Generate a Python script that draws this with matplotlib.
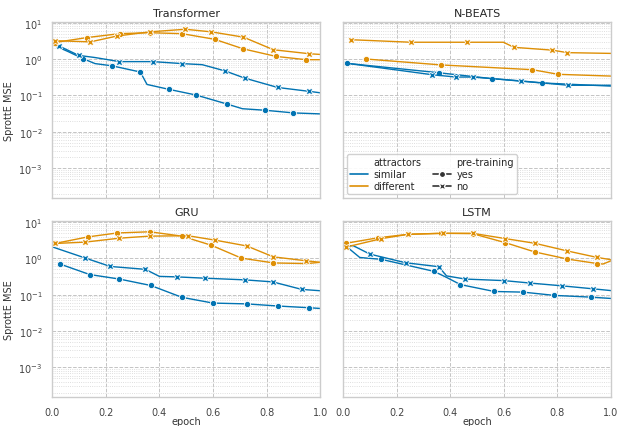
"""SprottE MSE vs epoch for four model families."""
import matplotlib
matplotlib.use("Agg")
import matplotlib.pyplot as plt
import seaborn as sns
from matplotlib.lines import Line2D
from matplotlib.ticker import LogLocator, NullFormatter

# each series: (epoch, mse, marker drawn at this point)
models = ["Transformer", "N-BEATS", "GRU", "LSTM"]

tf_sim_yes = [(0.0, 2.5, 0), (0.06, 1.6, 0), (0.116, 1.02, 1), (0.16, 0.75, 0), (0.224, 0.65, 1),
              (0.329, 0.44, 1), (0.354, 0.2, 0), (0.437, 0.146, 1), (0.538, 0.102, 1), (0.652, 0.058, 1),
              (0.71, 0.043, 0), (0.795, 0.039, 1), (0.9, 0.033, 1), (1.0, 0.031, 0)]
tf_sim_no = [(0.0, 2.5, 0), (0.025, 2.3, 1), (0.099, 1.26, 1), (0.16, 1.1, 0), (0.251, 0.85, 1),
             (0.376, 0.85, 1), (0.484, 0.75, 1), (0.56, 0.7, 0), (0.646, 0.47, 1), (0.718, 0.30, 1),
             (0.842, 0.165, 1), (0.96, 0.129, 1), (1.0, 0.118, 0)]
tf_diff_yes = [(0.01, 2.85, 1), (0.13, 3.9, 1), (0.252, 5.0, 1), (0.364, 5.3, 1), (0.484, 5.0, 1),
               (0.606, 3.5, 1), (0.714, 1.9, 1), (0.836, 1.18, 1), (0.948, 0.96, 1), (1.0, 0.96, 0)]
tf_diff_no = [(0.01, 3.2, 1), (0.143, 2.97, 1), (0.242, 4.3, 1), (0.364, 5.6, 1), (0.497, 6.6, 1),
              (0.594, 5.6, 1), (0.714, 4.0, 1), (0.826, 1.8, 1), (0.96, 1.4, 1), (1.0, 1.34, 0)]

nb_sim_yes = [(0.016, 0.76, 1), (0.357, 0.42, 1), (0.554, 0.29, 1), (0.741, 0.22, 1), (1.0, 0.18, 0)]
nb_sim_no = [(0.016, 0.76, 0), (0.333, 0.37, 1), (0.421, 0.32, 1), (0.483, 0.32, 1), (0.664, 0.25, 1),
             (0.84, 0.19, 1), (1.0, 0.19, 0)]
nb_diff_yes = [(0.087, 1.0, 1), (0.364, 0.69, 1), (0.706, 0.51, 1), (0.803, 0.38, 1), (1.0, 0.34, 0)]
nb_diff_no = [(0.031, 3.4, 1), (0.253, 2.9, 1), (0.463, 2.9, 1), (0.598, 2.9, 0), (0.638, 2.1, 1),
              (0.78, 1.76, 1), (0.837, 1.5, 1), (1.0, 1.43, 0)]

gru_sim_yes = [(0.029, 0.7, 1), (0.14, 0.36, 1), (0.251, 0.27, 1), (0.368, 0.18, 1), (0.484, 0.085, 1),
               (0.6, 0.059, 1), (0.726, 0.056, 1), (0.842, 0.049, 1), (0.957, 0.044, 1), (1.0, 0.042, 0)]
gru_sim_no = [(0.0, 2.08, 0), (0.124, 1.02, 1), (0.217, 0.6, 1), (0.348, 0.5, 1), (0.4, 0.32, 0),
              (0.466, 0.31, 1), (0.571, 0.285, 1), (0.718, 0.257, 1), (0.823, 0.226, 1), (0.932, 0.14, 1),
              (1.0, 0.129, 0)]
gru_diff_yes = [(0.01, 2.57, 1), (0.133, 3.9, 1), (0.242, 5.0, 1), (0.364, 5.4, 1), (0.484, 4.1, 1),
                (0.594, 2.3, 1), (0.706, 1.02, 1), (0.826, 0.75, 1), (0.95, 0.72, 0), (1.0, 0.78, 0)]
gru_diff_no = [(0.01, 2.57, 1), (0.122, 2.8, 1), (0.251, 3.6, 1), (0.364, 4.1, 1), (0.507, 4.2, 1),
               (0.606, 3.2, 1), (0.726, 2.2, 1), (0.826, 1.1, 1), (0.948, 0.86, 1), (1.0, 0.78, 0)]

lstm_sim_yes = [(0.01, 2.2, 0), (0.062, 1.06, 0), (0.143, 0.94, 1), (0.339, 0.44, 1), (0.386, 0.30, 0),
                (0.438, 0.19, 1), (0.564, 0.123, 1), (0.672, 0.118, 1), (0.788, 0.096, 1),
                (0.924, 0.086, 1), (1.0, 0.079, 0)]
lstm_sim_no = [(0.01, 2.2, 0), (0.037, 2.25, 0), (0.1, 1.31, 1), (0.233, 0.76, 1), (0.357, 0.59, 1),
               (0.386, 0.33, 0), (0.456, 0.27, 1), (0.6, 0.245, 1), (0.697, 0.21, 1), (0.816, 0.176, 1),
               (0.931, 0.146, 1), (1.0, 0.13, 0)]
lstm_diff_yes = [(0.01, 2.6, 1), (0.131, 3.7, 1), (0.243, 4.6, 1), (0.364, 4.9, 1), (0.483, 4.8, 1),
                 (0.606, 2.7, 1), (0.716, 1.5, 1), (0.837, 0.96, 1), (0.949, 0.72, 1), (0.97, 0.7, 0),
                 (1.0, 0.86, 0)]
lstm_diff_no = [(0.01, 2.04, 1), (0.143, 3.5, 1), (0.243, 4.6, 1), (0.374, 4.9, 1), (0.483, 4.9, 1),
                (0.606, 3.5, 1), (0.716, 2.6, 1), (0.837, 1.6, 1), (0.949, 1.06, 1), (1.0, 0.92, 0)]

series = {
    "Transformer": [tf_sim_yes, tf_sim_no, tf_diff_yes, tf_diff_no],
    "N-BEATS": [nb_sim_yes, nb_sim_no, nb_diff_yes, nb_diff_no],
    "GRU": [gru_sim_yes, gru_sim_no, gru_diff_yes, gru_diff_no],
    "LSTM": [lstm_sim_yes, lstm_sim_no, lstm_diff_yes, lstm_diff_no],
}
attractors = ["similar", "similar", "different", "different"]
pretraining = ["yes", "no", "yes", "no"]

colors = {"similar": "#0173b2", "different": "#de8f05"}
markers = {"yes": "o", "no": "X"}

sns.set_theme(style="whitegrid")
plt.rcParams["font.family"] = ["DejaVu Sans"]
plt.rcParams["font.size"] = 7

fig, axes = plt.subplots(2, 2, figsize=(6.21, 4.27), dpi=100, sharex=True, sharey=True)
fig.subplots_adjust(left=0.084, right=0.984, top=0.947, bottom=0.067, wspace=0.086, hspace=0.13)

for ax, name in zip(axes.flat, models):
    for pts, att, pre in zip(series[name], attractors, pretraining):
        xs = [p[0] for p in pts]
        ys = [p[1] for p in pts]
        marks = [i for i, p in enumerate(pts) if p[2]]
        ax.plot(xs, ys, color=colors[att], lw=1.0, marker=markers[pre], markevery=marks,
                markersize=4.5 if pre == "yes" else 5, markeredgecolor="white", markeredgewidth=0.6)
    ax.set_yscale("log")
    ax.set_xlim(0, 1)
    ax.set_ylim(1.5e-4, 10.7)
    ax.set_title(name, fontsize=8, color="#262626", pad=4)
    ax.yaxis.set_major_locator(LogLocator(base=10, numticks=10))
    ax.yaxis.set_minor_locator(LogLocator(base=10, subs=range(2, 10), numticks=20))
    ax.yaxis.set_minor_formatter(NullFormatter())
    ax.grid(True, which="major", ls="--", lw=0.7, color="#c4c4c4")
    ax.grid(True, which="minor", axis="y", ls=":", lw=0.6, color="#d4d4d4")
    ax.tick_params(labelsize=7, pad=1, colors="#444444")
    for sp in ax.spines.values():
        sp.set_color("#cccccc")
        sp.set_linewidth(1.0)

for ax in axes[:, 0]:
    ax.set_ylabel("SprottE MSE", fontsize=7, color="#333333", labelpad=3)
for ax in axes[1, :]:
    ax.set_xlabel("epoch", fontsize=7, color="#333333", labelpad=-0.5)
    ax.set_xticks([0.0, 0.2, 0.4, 0.6, 0.8, 1.0])

# legend in the N-BEATS panel
blank = Line2D([], [], linestyle="none")
handles = [blank,
           Line2D([], [], color=colors["similar"], lw=1.2),
           Line2D([], [], color=colors["different"], lw=1.2),
           blank,
           Line2D([], [], color="#333333", lw=1.2, marker="o", markersize=4.5, markeredgecolor="white"),
           Line2D([], [], color="#333333", lw=1.2, marker="X", markersize=5, markeredgecolor="white")]
labels = ["attractors", "similar", "different", "pre-training", "yes", "no"]
leg = axes[0, 1].legend(handles, labels, ncol=2, loc="lower left", fontsize=7, frameon=True,
                        handlelength=1.9, handletextpad=0.5, columnspacing=1.2, labelspacing=0.2,
                        borderaxespad=0.4, borderpad=0.3, framealpha=0.9)
leg.get_frame().set_edgecolor("#cccccc")

fig.savefig("out.png", dpi=100)
